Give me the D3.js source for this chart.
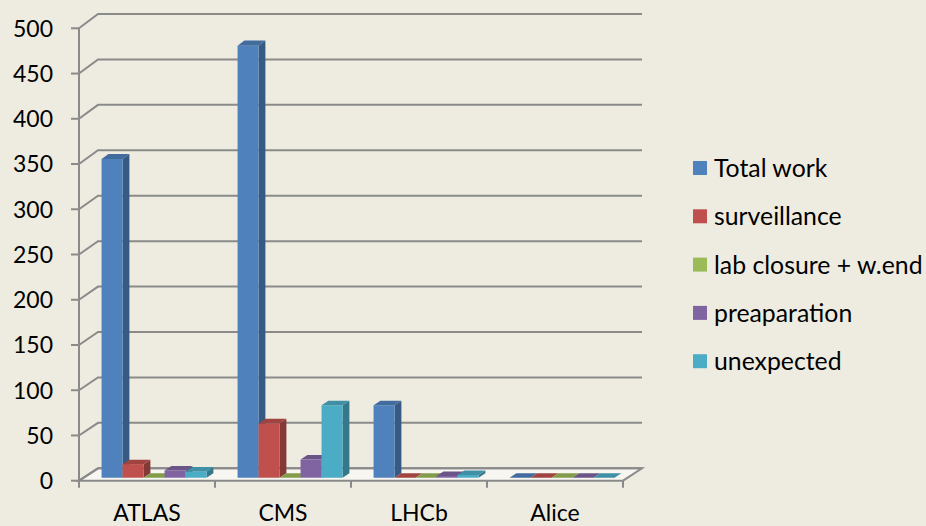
<!DOCTYPE html>
<html>
<head>
<meta charset="utf-8">
<script src="https://cdn.jsdelivr.net/npm/d3@7"></script>
<style>
  body { margin: 0; background: #eeece1; }
  svg { display: block; font-family: Lato, "DejaVu Sans", sans-serif; }
</style>
</head>
<body>
<div id="container"></div>
<script>
const categories = ["ATLAS", "CMS", "LHCb", "Alice"];
const series = ["Total work", "surveillance", "lab closure + w.end", "preaparation", "unexpected"];
const totalWork = [352, 477, 80, 0];
const surveillance = [15, 60, 0, 0];
const labClosure = [0, 0, 0, 0];
const preaparation = [8, 20, 2, 0];
const unexpected = [7, 80, 3, 0];
const colors = ["#4f81bd", "#c0504d", "#9bbb59", "#8064a2", "#4bacc6"];

const values = [totalWork, surveillance, labClosure, preaparation, unexpected];

const svg = d3.select("#container").append("svg").attr("width", 926).attr("height", 526);

// front plane and back wall value scales (a little perspective)
const yFront = d3.scaleLinear().domain([0, 500]).range([480.7, 28.3]);
const yBack = d3.scaleLinear().domain([0, 500]).range([468.3, 14]);
const DX = 19;
const x = d3.scaleBand().domain(categories).range([79, 623]);
const xs = d3.scaleBand().domain(series).range([18, 123]);

const proj = (px, v, d) => [px + d * DX, yFront(v) + d * (yBack(v) - yFront(v))];
const poly = (pts) => "M" + pts.map((p) => p.join(",")).join("L") + "Z";

const gridColor = "#8a8a8a";
const ticks = yFront.ticks(10);

// floor
svg.append("path")
  .attr("d", poly([proj(79, 0, 0), proj(623, 0, 0), proj(623, 0, 1), proj(79, 0, 1)]))
  .attr("fill", "#f7f6f1")
  .attr("stroke", gridColor)
  .attr("stroke-width", 2);

// back wall grid lines with the side diagonal
svg.append("g").selectAll("path")
  .data(ticks)
  .enter()
  .append("path")
  .attr("d", (v) => "M" + [proj(79, v, 0), proj(79, v, 1), proj(623, v, 1)].map((p) => p.join(",")).join("L"))
  .attr("fill", "none")
  .attr("stroke", gridColor)
  .attr("stroke-width", 2);

// value axis
svg.append("line")
  .attr("x1", 79).attr("x2", 79)
  .attr("y1", yFront(500)).attr("y2", yFront(0) + 7)
  .attr("stroke", gridColor).attr("stroke-width", 2);

const yAxis = svg.append("g");
yAxis.selectAll("line")
  .data(ticks)
  .enter()
  .append("line")
  .attr("x1", 71).attr("x2", 79)
  .attr("y1", (v) => yFront(v)).attr("y2", (v) => yFront(v))
  .attr("stroke", gridColor).attr("stroke-width", 2);
yAxis.selectAll("text")
  .data(ticks)
  .enter()
  .append("text")
  .attr("x", 53)
  .attr("y", (v) => yFront(v))
  .attr("dy", "0.36em")
  .attr("text-anchor", "end")
  .style("font-size", "23px")
  .text((v) => v);

// category ticks and labels
const edges = categories.map((c) => x(c)).concat([x.range()[1]]);
svg.append("g").selectAll("line")
  .data(edges.slice(1))
  .enter()
  .append("line")
  .attr("x1", (d) => d).attr("x2", (d) => d)
  .attr("y1", yFront(0)).attr("y2", yFront(0) + 7)
  .attr("stroke", gridColor).attr("stroke-width", 2);
svg.append("g").selectAll("text")
  .data(categories)
  .enter()
  .append("text")
  .attr("x", (c) => x(c) + x.bandwidth() / 2)
  .attr("y", 521)
  .attr("text-anchor", "middle")
  .style("font-size", "23px")
  .text((c) => c);

// bars, front of bar at depth 0.24, back at 0.6
const D0 = 0.24, D1 = 0.6;
const bars = svg.append("g");
categories.forEach((c, ci) => {
  series.forEach((s, si) => {
    const v = values[si][ci];
    const x0 = x(c) + xs(s);
    const x1 = x0 + xs.bandwidth();
    const col = d3.color(colors[si]);
    // side face
    if (v > 0) {
      bars.append("path")
        .attr("d", poly([proj(x1, 0, D0), proj(x1, v, D0), proj(x1, v, D1), proj(x1, 0, D1)]))
        .attr("fill", col.darker(1.0));
      bars.append("path")
        .attr("d", poly([proj(x0, 0, D0), proj(x1, 0, D0), proj(x1, v, D0), proj(x0, v, D0)]))
        .attr("fill", colors[si]);
    }
    // top face
    bars.append("path")
      .attr("d", poly([proj(x0, v, D0), proj(x1, v, D0), proj(x1, v, D1), proj(x0, v, D1)]))
      .attr("fill", col.darker(0.5));
  });
});

// legend
const legend = svg.append("g").selectAll("g")
  .data(series)
  .enter()
  .append("g")
  .attr("transform", (d, i) => `translate(693, ${168 + i * 48.3})`);
legend.append("rect")
  .attr("x", 0).attr("y", -7)
  .attr("width", 14).attr("height", 14)
  .attr("fill", (d, i) => colors[i]);
legend.append("text")
  .attr("x", 21)
  .attr("dy", "0.36em")
  .style("font-size", "24.8px")
  .text((d) => d);
</script>
</body>
</html>
